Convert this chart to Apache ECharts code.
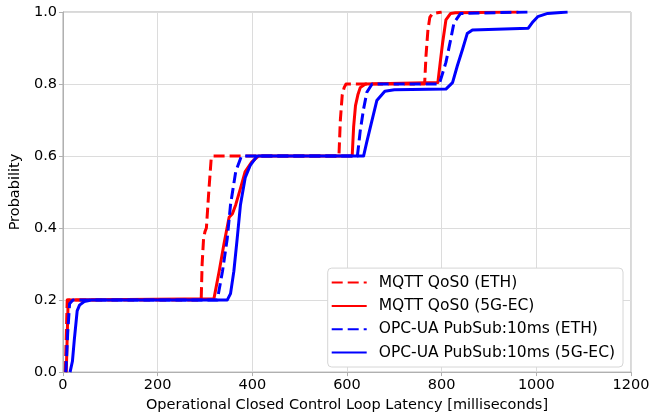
<!DOCTYPE html>
<html>
<head>
<meta charset="utf-8">
<script src="https://cdn.jsdelivr.net/npm/echarts@6/dist/echarts.min.js"></script>
<style>
html,body{margin:0;padding:0;background:#fff;}
#chart{width:653px;height:418px;}
</style>
</head>
<body>
<div id="chart"></div>
<script>
// Series names
const seriesNames = ['MQTT QoS0 (ETH)', 'MQTT QoS0 (5G-EC)', 'OPC-UA PubSub:10ms (ETH)', 'OPC-UA PubSub:10ms (5G-EC)'];

// MQTT QoS0 (ETH) - latency (ms) and cumulative probability
const mqttEthX = [5, 7, 9, 12, 292, 294, 297, 300, 303, 308, 313, 316, 583, 586, 590, 594, 598, 764, 767, 771, 775, 780, 800];
const mqttEthY = [0, 0.1, 0.2, 0.2, 0.2, 0.3, 0.37, 0.39, 0.4, 0.5, 0.59, 0.6, 0.6, 0.7, 0.77, 0.79, 0.8, 0.8, 0.88, 0.95, 0.985, 0.995, 1.0];

// MQTT QoS0 (5G-EC)
const mqtt5gX = [7, 9, 11, 14, 319, 330, 340, 351, 358, 365, 375, 385, 399, 413, 611, 614, 618, 623, 628, 639, 792, 797, 802, 809, 819, 829, 962];
const mqtt5gY = [0, 0.1, 0.2, 0.2, 0.204, 0.28, 0.355, 0.43, 0.44, 0.465, 0.51, 0.557, 0.584, 0.6, 0.6, 0.68, 0.74, 0.77, 0.79, 0.8, 0.804, 0.86, 0.914, 0.978, 0.996, 0.998, 1.0];

// OPC-UA PubSub:10ms (ETH)
const opcEthX = [6, 8, 10, 14, 21, 30, 326, 337, 347, 354, 365, 377, 622, 628, 635, 642, 653, 795, 802, 809, 819, 826, 840, 983];
const opcEthY = [0, 0.05, 0.108, 0.19, 0.2, 0.2, 0.2, 0.28, 0.37, 0.465, 0.557, 0.6, 0.6, 0.67, 0.73, 0.777, 0.8, 0.8, 0.83, 0.86, 0.923, 0.97, 0.996, 1.0];

// OPC-UA PubSub:10ms (5G-EC)
const opc5gX = [15, 20, 24, 27, 30, 35, 45, 60, 347, 354, 361, 368, 375, 385, 396, 410, 635, 642, 653, 663, 680, 700, 809, 823, 833, 844, 854, 865, 983, 993, 1003, 1024, 1066];
const opc5gY = [0, 0.03, 0.09, 0.13, 0.17, 0.186, 0.196, 0.2, 0.2, 0.218, 0.28, 0.37, 0.465, 0.54, 0.575, 0.6, 0.6, 0.64, 0.70, 0.754, 0.78, 0.784, 0.786, 0.804, 0.85, 0.896, 0.94, 0.95, 0.955, 0.973, 0.987, 0.996, 1.0];

// Axis ticks
const xTicks = [0, 200, 400, 600, 800, 1000, 1200];
const yTicks = [0.0, 0.2, 0.4, 0.6, 0.8, 1.0];

const zip = (xs, ys) => xs.map((x, i) => [x, ys[i]]);
const FONT = 'DejaVu Sans';

const chart = echarts.init(document.getElementById('chart'), null, {renderer: 'canvas'});

function mk(name, xs, ys, color, dashed) {
  return {
    name: name,
    type: 'line',
    data: zip(xs, ys),
    showSymbol: false,
    symbol: 'none',
    animation: false,
    clip: true,
    lineStyle: {color: color, width: 3, type: dashed ? [11, 5] : 'solid', cap: 'butt', join: 'round'},
    itemStyle: {color: color}
  };
}

chart.setOption({
  animation: false,
  backgroundColor: '#ffffff',
  grid: {left: 55, right: 22, top: 12, bottom: 42, show: true, borderColor: '#b0b0b0', borderWidth: 1, backgroundColor: 'transparent'},
  xAxis: {
    type: 'value',
    min: xTicks[0], max: xTicks[xTicks.length - 1], interval: 200,
    name: 'Operational Closed Control Loop Latency [milliseconds]',
    nameLocation: 'middle', nameGap: 20,
    nameTextStyle: {fontFamily: FONT, fontSize: 14.5, color: '#000'},
    axisLine: {show: true, lineStyle: {color: '#b0b0b0', width: 1}},
    axisTick: {show: true, length: 4, lineStyle: {color: '#b0b0b0'}},
    axisLabel: {fontFamily: FONT, fontSize: 14.5, color: '#000', margin: 6, formatter: v => String(v)},
    splitLine: {show: true, lineStyle: {color: '#dcdcdc', width: 1}}
  },
  yAxis: {
    type: 'value',
    min: yTicks[0], max: yTicks[yTicks.length - 1], interval: 0.2,
    name: 'Probability',
    nameLocation: 'middle', nameGap: 33, nameRotate: 90,
    nameTextStyle: {fontFamily: FONT, fontSize: 14.5, color: '#000'},
    axisLine: {show: true, lineStyle: {color: '#b0b0b0', width: 1}},
    axisTick: {show: true, length: 4, lineStyle: {color: '#b0b0b0'}},
    axisLabel: {fontFamily: FONT, fontSize: 14.5, color: '#000', margin: 6, formatter: v => v.toFixed(1)},
    splitLine: {show: true, lineStyle: {color: '#dcdcdc', width: 1}}
  },
  legend: {
    orient: 'vertical',
    right: 30, bottom: 51,
    data: seriesNames,
    backgroundColor: '#ffffff',
    borderColor: '#d6d6d6', borderWidth: 1, borderRadius: 4,
    padding: [5.5, 8, 5.5, 3],
    itemWidth: 35, itemHeight: 14, itemGap: 5.3,
    itemStyle: {opacity: 0, borderWidth: 0},
    textStyle: {fontFamily: FONT, fontSize: 15.5, color: '#000', lineHeight: 18, padding: [0, 0, 0, 7]}
  },
  series: [
    mk(seriesNames[0], mqttEthX, mqttEthY, '#ff0000', true),
    mk(seriesNames[1], mqtt5gX, mqtt5gY, '#ff0000', false),
    mk(seriesNames[2], opcEthX, opcEthY, '#0000ff', true),
    mk(seriesNames[3], opc5gX, opc5gY, '#0000ff', false)
  ]
});
</script>
</body>
</html>
